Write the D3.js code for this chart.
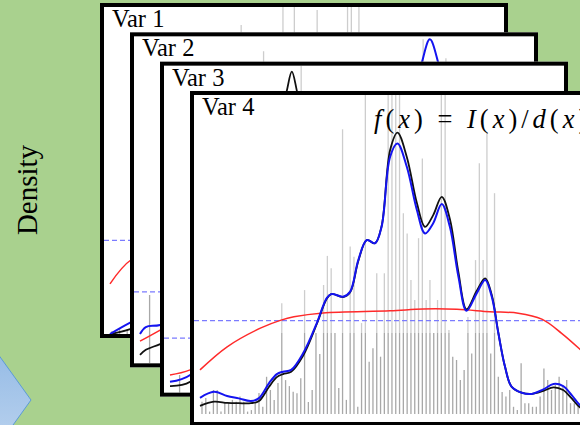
<!DOCTYPE html>
<html>
<head>
<meta charset="utf-8">
<script src="https://cdn.jsdelivr.net/npm/d3@7"></script>
<style>
  body { margin: 0; background: #a9d18e; }
  svg { display: block; }
</style>
</head>
<body>
<div id="chart"></div>
<script>
// ---- data ----
const panelNames = ["Var 1", "Var 2", "Var 3", "Var 4"];

// Var 1 (back panel, mostly hidden)
const gridX1 = [0, 5.2, 15, 30, 45, 60, 75, 90, 100];
const blue1 = [0, 3.8, 10, 35, 70, 50, 30, 10, 3];
const black1 = [0, 1.6, 8, 33, 75, 52, 28, 8, 2];
const redX1 = [0, 5.7, 20, 50, 80, 100];
const red1 = [16.7, 25, 32, 35, 33, 22];
const spikes1 = [[0, 1], [2, 2], [4, 1.5], [34, 103], [45, 109], [48, 109], [54, 108], [62, 120], [63, 120], [65, 120]];
const level1 = 31.2;

// Var 2
const gridX2 = [0, 1.5, 5.2, 20, 45, 65, 70, 72.6, 74.7, 76.9, 80, 90, 100];
const blue2 = [9.8, 12.1, 12.8, 20, 50, 70, 85, 100, 108, 100, 80, 30, 5];
const black2 = [2.8, 4.5, 6.4, 15, 45, 68, 80, 90, 94, 88, 72, 28, 4];
const redX2 = [0, 5.2, 20, 50, 80, 100];
const red2 = [7.4, 11.1, 22, 30, 30, 18];
const spikes2 = [[2, 22.8], [32, 104], [74, 108], [80, 101.7]];
const level2 = 23.8;

// Var 3
const gridX3 = [0, 5.2, 15, 25, 28, 30.1, 31.4, 32.7, 35, 45, 60, 80, 100];
const blue3 = [3.6, 5.9, 22, 66, 82, 92, 96, 92, 80, 50, 40, 16, 4];
const black3 = [2.2, 3.6, 20, 70, 88, 100.6, 107, 100.6, 85, 50, 40, 15, 3];
const redX3 = [0, 5.2, 20, 50, 80, 100];
const red3 = [5.9, 7.6, 18, 26, 26, 15];
const spikes3 = [[2, 5.9], [34, 120]];
const level3 = 18.2;

// Var 4 (front panel)
const gridX4 = [0, 3.6, 7, 10, 13.1, 15.2, 17.8, 19.8, 21.4, 23.5, 26.6, 30.1, 32.7, 33.9, 36.9, 38.7,
    40.8, 43, 45.1, 46.8, 49, 50.9, 53.3, 55.9, 58, 60.1, 62.3, 64.4, 66.6, 68.7, 71.3, 73.5,
    75.2, 76.9, 78.6, 80.3, 82.9, 85.5, 88.5, 91.1, 93.6, 95.8, 97.9, 100];
const blue4 = [5.4, 7.4, 6.0, 5.2, 4.3, 5.3, 10.3, 13.3, 14.1, 14.7, 20.3, 30.3, 38.7, 40, 39.1, 40.8,
    51.3, 58, 56.9, 62.4, 85.8, 90.2, 82.4, 68, 60.2, 63.6, 70, 62.4, 45.8, 34.4, 40.2, 44.7,
    39.1, 26.9, 15.8, 9.1, 7.1, 6.7, 8.2, 10, 9.3, 6.3, 3, 1.5];
const black4 = [2.7, 4.1, 3.7, 3.6, 3.6, 4.3, 9.1, 12.3, 13.3, 14.1, 19.5, 30, 38.5, 40, 39, 40.6,
    51, 58, 56.9, 62.6, 88, 93.8, 85.7, 70.3, 62.4, 66.3, 72.4, 65, 47.3, 34.9, 41, 45.2,
    39.7, 27, 15.8, 9.1, 7.1, 6.7, 7.7, 8.9, 8, 5.2, 2.2, 1];
const redX4 = [0, 7, 15.7, 20.9, 24.2, 31.7, 49, 57.5, 66.2, 74.7, 82, 88.1, 93.2, 97.9, 100];
const red4 = [14.7, 22.4, 28.7, 31.3, 32.4, 33.7, 34.4, 35, 34.9, 34.1, 33.6, 31.6, 26.9, 21.6, 19];
const spikes4 = [4.1, 5.3, 0.8, 8, 8, 0.8, 3.7, 3.7, 4.7, 4.1,
    5.8, 4.1, 0.8, 1.3, 3.7, 7, 2.4, 12.4, 8, 4.7,
    10.3, 36.9, 11.3, 9.3, 7.4, 6.9, 11.9, 41.3, 4, 8,
    27, 20, 43, 52.7, 48.6, 27, 8.7, 94.9, 4.7, 55.8,
    52.4, 2.4, 30.3, 120, 17.4, 21.9, 46.9, 19.1, 46.9, 120,
    120, 120, 120, 66.9, 60.2, 44.7, 38, 58.6, 85.2, 38,
    44.7, 27, 38, 120, 120, 28, 19.1, 18, 11.3, 14.7,
    32.3, 20.2, 51.3, 83.6, 51.3, 93.6, 20.2, 73.6, 12.4, 7.3,
    5.8, 8, 2.4, 1.3, 16.9, 3.6, 3.6, 2.4, 2.4, 5.8,
    15.2, 11.3, 8, 9.7, 12.4, 9.1, 11.3, 3.6, 3.6, 3];
const level4 = 31.1;

const yLabel = "Density";
const formula = [["f", true], ["(", false], ["x", true], [")", false], [" = ", false],
    ["I", true], ["(", false], ["x", true], [")/", false], ["d", true], ["(", false], ["x", true], [")", false]];

const panels = [
    {gx: gridX1, blue: blue1, black: black1, rx: redX1, red: red1, spikes: spikes1, level: level1},
    {gx: gridX2, blue: blue2, black: black2, rx: redX2, red: red2, spikes: spikes2, level: level2},
    {gx: gridX3, blue: blue3, black: black3, rx: redX3, red: red3, spikes: spikes3, level: level3},
    {gx: gridX4, blue: blue4, black: black4, rx: redX4, red: red4,
        spikes: spikes4.map((h, i) => [i, h]), level: level4}
];

// ---- layout ----
const width = 580, height = 425;
const panelW = 408, panelH = 335;
const nBins = 100;
const shadeLevel = 27;   // spikes turn lighter above this density

const svg = d3.select("#chart").append("svg")
    .attr("width", width)
    .attr("height", height);

const defs = svg.append("defs");
const grad = defs.append("linearGradient")
    .attr("id", "arrowFill")
    .attr("x1", 0).attr("y1", 0).attr("x2", 0).attr("y2", 1);
grad.append("stop").attr("offset", "0%").attr("stop-color", "#8db6e4");
grad.append("stop").attr("offset", "100%").attr("stop-color", "#c3d8f0");

svg.append("rect")
    .attr("width", width)
    .attr("height", height)
    .attr("fill", "#a9d18e");

// blue arrow shape bottom-left
svg.append("polygon")
    .attr("points", [[-20, 329], [31, 400], [-20, 471], [-71, 400]].map(p => p.join(",")).join(" "))
    .attr("fill", "url(#arrowFill)")
    .attr("stroke", "#5b9bd5")
    .attr("stroke-width", 1);

// y label
svg.append("text")
    .attr("transform", "translate(37,190) rotate(-90)")
    .attr("text-anchor", "middle")
    .attr("font-family", "Liberation Serif, Times New Roman, serif")
    .attr("font-size", 29)
    .text(yLabel);

const x = d3.scaleLinear().domain([0, 100]).range([10, 398]);
const xBin = d3.scaleLinear().domain([0, nBins - 1]).range([x(0.515), x(97.45)]);

panels.forEach((p, k) => {
    let base = k === 3 ? 323 : 331;
    let y = d3.scaleLinear().domain([0, 100]).range([base, base - 300]);

    let g = svg.append("g")
        .attr("transform", `translate(${100 + k * 30}, ${3 + k * 29.33})`);

    g.append("rect")
        .attr("width", panelW)
        .attr("height", panelH)
        .attr("fill", "white");

    defs.append("clipPath")
        .attr("id", "clip" + k)
        .append("rect")
        .attr("x", 4).attr("y", 4)
        .attr("width", panelW - 8)
        .attr("height", panelH - 8);

    let plot = g.append("g").attr("clip-path", `url(#clip${k})`);

    // spikes, darker lower part and lighter upper part
    plot.selectAll(".spike-lo")
        .data(p.spikes)
        .join("line")
        .attr("class", "spike-lo")
        .attr("x1", d => xBin(d[0]))
        .attr("x2", d => xBin(d[0]))
        .attr("y1", y(0))
        .attr("y2", d => y(Math.min(d[1], shadeLevel)))
        .attr("stroke", "#a8a8a8")
        .attr("stroke-width", 1.3);

    plot.selectAll(".spike-hi")
        .data(p.spikes.filter(d => d[1] > shadeLevel))
        .join("line")
        .attr("class", "spike-hi")
        .attr("x1", d => xBin(d[0]))
        .attr("x2", d => xBin(d[0]))
        .attr("y1", y(shadeLevel))
        .attr("y2", d => y(d[1]))
        .attr("stroke", "#cdcdcd")
        .attr("stroke-width", 1.3);

    // dashed reference level
    plot.append("line")
        .attr("x1", 4).attr("x2", panelW - 4)
        .attr("y1", y(p.level)).attr("y2", y(p.level))
        .attr("stroke", "#7b7bff")
        .attr("stroke-width", 1.2)
        .attr("stroke-dasharray", "5,3");

    let line = d3.line()
        .x(d => x(d[0]))
        .y(d => y(d[1]))
        .curve(d3.curveCatmullRom.alpha(0.5));

    plot.append("path")
        .attr("d", line(d3.zip(p.rx, p.red)))
        .attr("fill", "none")
        .attr("stroke", "#ff2a2a")
        .attr("stroke-width", 1.5);

    plot.append("path")
        .attr("d", line(d3.zip(p.gx, p.black)))
        .attr("fill", "none")
        .attr("stroke", "#111")
        .attr("stroke-width", 1.8);

    plot.append("path")
        .attr("d", line(d3.zip(p.gx, p.blue)))
        .attr("fill", "none")
        .attr("stroke", "#1414f0")
        .attr("stroke-width", 2);

    g.append("text")
        .attr("x", 12)
        .attr("y", 24)
        .attr("font-family", "Liberation Serif, Times New Roman, serif")
        .attr("font-size", 24.5)
        .text(panelNames[k]);

    if (k === 3) {
        let t = g.append("text")
            .attr("x", 184)
            .attr("y", 37)
            .attr("font-family", "Liberation Serif, Times New Roman, serif")
            .attr("font-size", 26.5)
            .attr("letter-spacing", 4)
            .style("white-space", "pre");
        t.selectAll("tspan")
            .data(formula)
            .join("tspan")
            .attr("font-style", d => d[1] ? "italic" : "normal")
            .text(d => d[0]);
    }

    g.append("rect")
        .attr("x", 2).attr("y", 2)
        .attr("width", panelW - 4)
        .attr("height", panelH - 4)
        .attr("fill", "none")
        .attr("stroke", "black")
        .attr("stroke-width", 4);
});
</script>
</body>
</html>
